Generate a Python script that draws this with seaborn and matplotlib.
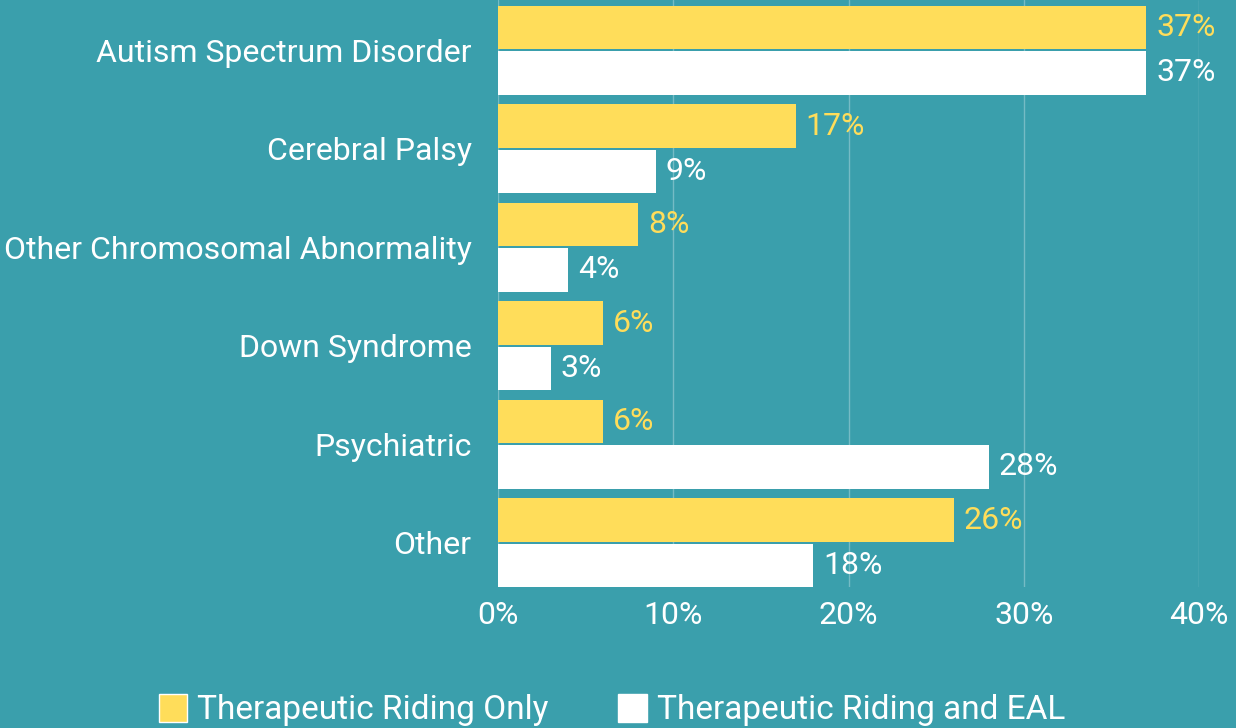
import matplotlib
matplotlib.use("Agg")
import matplotlib.pyplot as plt
import pandas as pd
import seaborn as sns
from matplotlib.patches import Patch

categories = [
    "Autism Spectrum Disorder",
    "Cerebral Palsy",
    "Other Chromosomal Abnormality",
    "Down Syndrome",
    "Psychiatric",
    "Other",
]
riding_only = [37, 17, 8, 6, 6, 26]
riding_eal = [37, 9, 4, 3, 28, 18]
series_names = ["Therapeutic Riding Only", "Therapeutic Riding and EAL"]
x_ticks = [0, 10, 20, 30, 40]

BG = "#3a9fac"
YELLOW = "#ffdd5a"
WHITE = "#ffffff"
FS = 23

df = pd.DataFrame({
    "Category": categories * 2,
    "Value": riding_only + riding_eal,
    "Series": [series_names[0]] * len(categories) + [series_names[1]] * len(categories),
})

sns.set_style("white")
plt.rcParams["font.family"] = ["Roboto", "DejaVu Sans"]

fig = plt.figure(figsize=(12.36, 7.28), dpi=100, facecolor=BG)
ax = fig.add_axes([498 / 1236, 1 - 587 / 728, (1199 - 498) / 1236, 587 / 728])
ax.set_facecolor(BG)

sns.barplot(data=df, y="Category", x="Value", hue="Series", orient="h",
            palette=[YELLOW, WHITE], width=0.92, gap=0.04, legend=False,
            ax=ax, linewidth=0, saturation=1)

ax.set_xlim(0, 40)
ax.set_ylim(5.45, -0.51)
ax.set_xticks(x_ticks)
ax.set_xticklabels([f"{t}%" for t in x_ticks])
ax.xaxis.grid(True, color="white", alpha=0.3, linewidth=1)
ax.set_axisbelow(True)
for s in ax.spines.values():
    s.set_visible(False)
ax.tick_params(axis="both", length=0, colors="white", labelsize=FS)
ax.tick_params(axis="y", pad=19)
ax.tick_params(axis="x", pad=10)
ax.set_xlabel("")
ax.set_ylabel("")
# nudge category labels up a touch
for lbl in ax.get_yticklabels():
    lbl.set_y(lbl.get_position()[1])
    lbl.set_va("center_baseline")

# value labels
for container, color in zip(ax.containers, [YELLOW, WHITE]):
    labels = [f"{v:.0f}%" for v in container.datavalues]
    ax.bar_label(container, labels=labels, padding=7, color=color, fontsize=FS)

handles = [Patch(facecolor=YELLOW, label=series_names[0]),
           Patch(facecolor=WHITE, label=series_names[1])]
leg = fig.legend(handles=handles, loc="center", bbox_to_anchor=(0.495, 0.025),
                 ncol=2, frameon=False, fontsize=24, handlelength=0.85,
                 handleheight=0.92, handletextpad=0.3, columnspacing=2.1)
for t in leg.get_texts():
    t.set_color("white")

fig.savefig("out.png", dpi=100, facecolor=BG)
